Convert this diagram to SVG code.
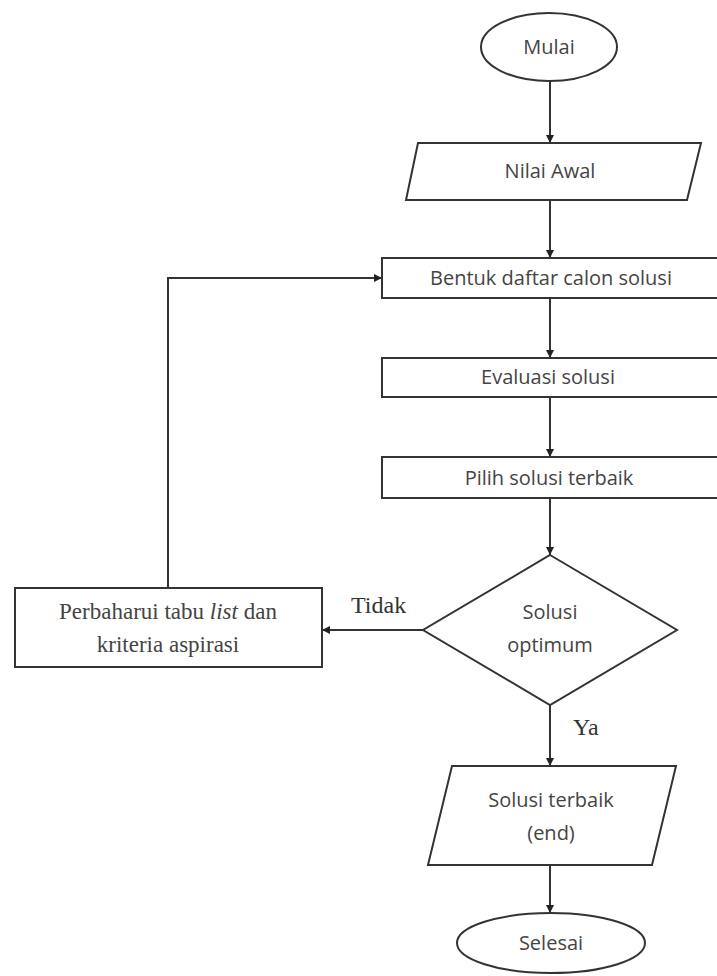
<svg xmlns="http://www.w3.org/2000/svg" width="717" height="976" viewBox="0 0 717 976">
<defs>
<marker id="ah" markerWidth="10" markerHeight="10" refX="9" refY="5" orient="auto" markerUnits="userSpaceOnUse">
<path d="M1,1 L9,5 L1,9 Z" fill="#222"/>
</marker>
<style>
.s{fill:#fff;stroke:#333;stroke-width:2}
.t{font-family:"Open Sans","Noto Sans",sans-serif;font-size:20px;fill:#444;text-anchor:middle}
.f{font-family:"Liberation Serif","DejaVu Serif",serif;font-size:23px;fill:#444;text-anchor:middle}
.l{font-family:"Liberation Serif","DejaVu Serif",serif;font-size:24px;fill:#333}
.c{fill:none;stroke:#333;stroke-width:2}
</style>
</defs>
<rect width="717" height="976" fill="#fff"/>
<g id="connectors">
<line class="c" x1="550" y1="81" x2="550" y2="143" marker-end="url(#ah)"/>
<line class="c" x1="550" y1="200" x2="550" y2="258" marker-end="url(#ah)"/>
<line class="c" x1="550" y1="298" x2="550" y2="358" marker-end="url(#ah)"/>
<line class="c" x1="550" y1="397" x2="550" y2="457" marker-end="url(#ah)"/>
<line class="c" x1="550" y1="498" x2="550" y2="555" marker-end="url(#ah)"/>
<line class="c" x1="423" y1="630" x2="322" y2="630" marker-end="url(#ah)"/>
<polyline class="c" points="168,588 168,278 382,278" marker-end="url(#ah)"/>
<line class="c" x1="550" y1="705" x2="550" y2="766" marker-end="url(#ah)"/>
<line class="c" x1="550" y1="865" x2="550" y2="913" marker-end="url(#ah)"/>
<text class="l" x="351" y="613">Tidak</text>
<text class="l" x="573" y="735">Ya</text>
</g>
<g id="mulai">
<ellipse class="s" cx="549" cy="47" rx="68" ry="34"/>
<text class="t" x="549" y="54">Mulai</text>
</g>
<g id="nilai-awal">
<polygon class="s" points="418,143 701,143 687,200 406,200"/>
<text class="t" x="550" y="178">Nilai Awal</text>
</g>
<g id="bentuk">
<rect class="s" x="382" y="258" width="345" height="40"/>
<text class="t" x="551" y="285">Bentuk daftar calon solusi</text>
</g>
<g id="evaluasi">
<rect class="s" x="382" y="358" width="345" height="39"/>
<text class="t" x="548" y="384">Evaluasi solusi</text>
</g>
<g id="pilih">
<rect class="s" x="382" y="457" width="345" height="41"/>
<text class="t" x="549" y="485">Pilih solusi terbaik</text>
</g>
<g id="solusi-optimum">
<polygon class="s" points="550,555 677,630 550,705 423,630"/>
<text class="t" x="550" y="619">Solusi</text>
<text class="t" x="550" y="652">optimum</text>
</g>
<g id="perbaharui">
<rect class="s" x="15" y="588" width="307" height="79"/>
<text class="f" x="168" y="619">Perbaharui tabu <tspan font-style="italic">list</tspan> dan</text>
<text class="f" x="168" y="652">kriteria aspirasi</text>
</g>
<g id="solusi-terbaik">
<polygon class="s" points="452,766 676,766 652,865 428,865"/>
<text class="t" x="551" y="807">Solusi terbaik</text>
<text class="t" x="551" y="840">(end)</text>
</g>
<g id="selesai">
<ellipse class="s" cx="551" cy="943" rx="94" ry="30"/>
<text class="t" x="551" y="950">Selesai</text>
</g>
</svg>
